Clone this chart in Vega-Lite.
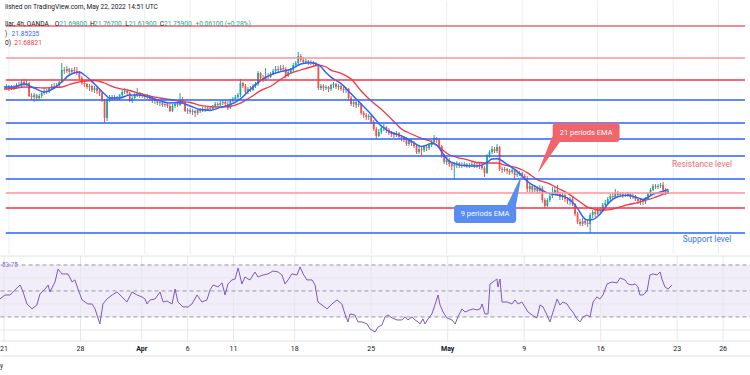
{
  "$schema": "https://vega.github.io/schema/vega-lite/v6.json",
  "padding": 0,
  "spacing": 0,
  "background": "#ffffff",
  "config": {"view": {"stroke": null}, "font": "Roboto"},
  "datasets": {
    "candles": [
      {"b":-1,"o":24.86,"h":24.98,"l":24.80,"c":24.92},{"b":0,"o":24.92,"h":24.95,"l":24.77,"c":24.83},{"b":1,"o":24.83,"h":24.95,"l":24.80,"c":24.89},{"b":2,"o":24.89,"h":24.95,"l":24.80,"c":24.86},{"b":3,"o":24.86,"h":25.01,"l":24.83,"c":24.95},{"b":4,"o":24.95,"h":25.04,"l":24.86,"c":24.92},{"b":5,"o":24.92,"h":25.10,"l":24.89,"c":25.04},{"b":6,"o":25.04,"h":25.13,"l":24.92,"c":24.98},{"b":7,"o":24.98,"h":25.10,"l":24.92,"c":25.01},{"b":8,"o":25.01,"h":25.04,"l":24.59,"c":24.62},
      {"b":9,"o":24.62,"h":24.71,"l":24.50,"c":24.59},{"b":10,"o":24.59,"h":24.71,"l":24.44,"c":24.65},{"b":11,"o":24.65,"h":24.68,"l":24.47,"c":24.56},{"b":12,"o":24.56,"h":24.68,"l":24.50,"c":24.62},{"b":13,"o":24.62,"h":24.74,"l":24.56,"c":24.71},{"b":14,"o":24.71,"h":24.83,"l":24.65,"c":24.77},{"b":15,"o":24.77,"h":24.83,"l":24.68,"c":24.74},{"b":16,"o":24.74,"h":24.89,"l":24.71,"c":24.86},{"b":17,"o":24.86,"h":24.98,"l":24.80,"c":24.92},{"b":18,"o":24.92,"h":25.01,"l":24.83,"c":24.89},
      {"b":19,"o":24.89,"h":25.01,"l":24.86,"c":24.95},{"b":20,"o":24.95,"h":25.07,"l":24.89,"c":25.04},{"b":21,"o":25.04,"h":25.61,"l":25.01,"c":25.40},{"b":22,"o":25.40,"h":25.49,"l":25.28,"c":25.37},{"b":23,"o":25.37,"h":25.52,"l":25.31,"c":25.43},{"b":24,"o":25.43,"h":25.46,"l":25.28,"c":25.34},{"b":25,"o":25.34,"h":25.46,"l":25.31,"c":25.40},{"b":26,"o":25.40,"h":25.49,"l":25.28,"c":25.37},{"b":27,"o":25.37,"h":25.49,"l":25.25,"c":25.34},{"b":28,"o":25.34,"h":25.37,"l":25.10,"c":25.16},
      {"b":29,"o":25.16,"h":25.22,"l":24.95,"c":25.01},{"b":30,"o":25.01,"h":25.10,"l":24.89,"c":24.98},{"b":31,"o":24.98,"h":25.01,"l":24.83,"c":24.89},{"b":32,"o":24.89,"h":24.98,"l":24.77,"c":24.92},{"b":33,"o":24.92,"h":24.95,"l":24.74,"c":24.80},{"b":34,"o":24.80,"h":24.92,"l":24.71,"c":24.86},{"b":35,"o":24.86,"h":24.89,"l":24.68,"c":24.77},{"b":36,"o":24.77,"h":24.83,"l":24.62,"c":24.71},{"b":37,"o":24.71,"h":24.74,"l":24.44,"c":24.50},{"b":38,"o":24.50,"h":24.53,"l":23.81,"c":23.96},
      {"b":39,"o":23.96,"h":24.56,"l":23.87,"c":24.50},{"b":40,"o":24.50,"h":24.65,"l":24.44,"c":24.59},{"b":41,"o":24.59,"h":24.65,"l":24.47,"c":24.53},{"b":42,"o":24.53,"h":24.65,"l":24.50,"c":24.59},{"b":43,"o":24.59,"h":24.62,"l":24.47,"c":24.56},{"b":44,"o":24.56,"h":24.68,"l":24.50,"c":24.65},{"b":45,"o":24.65,"h":24.80,"l":24.59,"c":24.74},{"b":46,"o":24.74,"h":24.86,"l":24.68,"c":24.77},{"b":47,"o":24.77,"h":24.83,"l":24.65,"c":24.71},{"b":48,"o":24.71,"h":24.74,"l":24.44,"c":24.47},
      {"b":49,"o":24.47,"h":24.62,"l":24.41,"c":24.56},{"b":50,"o":24.56,"h":24.71,"l":24.53,"c":24.65},{"b":51,"o":24.65,"h":24.86,"l":24.59,"c":24.71},{"b":52,"o":24.71,"h":24.74,"l":24.56,"c":24.62},{"b":53,"o":24.62,"h":24.71,"l":24.56,"c":24.65},{"b":54,"o":24.65,"h":24.68,"l":24.53,"c":24.59},{"b":55,"o":24.59,"h":24.68,"l":24.53,"c":24.62},{"b":56,"o":24.62,"h":24.65,"l":24.47,"c":24.53},{"b":57,"o":24.53,"h":24.59,"l":24.41,"c":24.47},{"b":58,"o":24.47,"h":24.56,"l":24.38,"c":24.50},
      {"b":59,"o":24.50,"h":24.53,"l":24.35,"c":24.41},{"b":60,"o":24.41,"h":24.50,"l":24.32,"c":24.44},{"b":61,"o":24.44,"h":24.47,"l":24.29,"c":24.35},{"b":62,"o":24.35,"h":24.44,"l":24.29,"c":24.38},{"b":63,"o":24.38,"h":24.41,"l":24.26,"c":24.32},{"b":64,"o":24.32,"h":24.38,"l":24.14,"c":24.17},{"b":65,"o":24.17,"h":24.38,"l":24.14,"c":24.32},{"b":66,"o":24.32,"h":24.44,"l":24.26,"c":24.38},{"b":67,"o":24.38,"h":24.44,"l":24.29,"c":24.35},{"b":68,"o":24.35,"h":24.71,"l":24.32,"c":24.50},
      {"b":69,"o":24.50,"h":24.59,"l":24.41,"c":24.44},{"b":70,"o":24.44,"h":24.47,"l":24.14,"c":24.17},{"b":71,"o":24.17,"h":24.26,"l":24.08,"c":24.20},{"b":72,"o":24.20,"h":24.26,"l":24.08,"c":24.14},{"b":73,"o":24.14,"h":24.23,"l":24.05,"c":24.17},{"b":74,"o":24.17,"h":24.20,"l":23.99,"c":24.11},{"b":75,"o":24.11,"h":24.23,"l":24.05,"c":24.20},{"b":76,"o":24.20,"h":24.26,"l":24.11,"c":24.17},{"b":77,"o":24.17,"h":24.29,"l":24.14,"c":24.23},{"b":78,"o":24.23,"h":24.29,"l":24.14,"c":24.20},
      {"b":79,"o":24.20,"h":24.32,"l":24.17,"c":24.26},{"b":80,"o":24.26,"h":24.32,"l":24.17,"c":24.23},{"b":81,"o":24.23,"h":24.35,"l":24.20,"c":24.32},{"b":82,"o":24.32,"h":24.44,"l":24.26,"c":24.38},{"b":83,"o":24.38,"h":24.44,"l":24.29,"c":24.35},{"b":84,"o":24.35,"h":24.47,"l":24.32,"c":24.41},{"b":85,"o":24.41,"h":24.50,"l":24.35,"c":24.44},{"b":86,"o":24.44,"h":24.50,"l":24.32,"c":24.38},{"b":87,"o":24.38,"h":24.47,"l":24.20,"c":24.26},{"b":88,"o":24.26,"h":24.53,"l":24.23,"c":24.47},
      {"b":89,"o":24.47,"h":24.59,"l":24.44,"c":24.53},{"b":90,"o":24.53,"h":24.65,"l":24.50,"c":24.59},{"b":91,"o":24.59,"h":24.71,"l":24.53,"c":24.65},{"b":92,"o":24.65,"h":25.13,"l":24.59,"c":25.01},{"b":93,"o":25.01,"h":25.04,"l":24.86,"c":24.92},{"b":94,"o":24.92,"h":24.98,"l":24.68,"c":24.74},{"b":95,"o":24.74,"h":24.89,"l":24.68,"c":24.83},{"b":96,"o":24.83,"h":24.92,"l":24.74,"c":24.80},{"b":97,"o":24.80,"h":24.98,"l":24.77,"c":24.92},{"b":98,"o":24.92,"h":25.04,"l":24.86,"c":24.98},
      {"b":99,"o":24.98,"h":25.37,"l":24.92,"c":25.31},{"b":100,"o":25.31,"h":25.34,"l":25.10,"c":25.16},{"b":101,"o":25.16,"h":25.25,"l":25.04,"c":25.10},{"b":102,"o":25.10,"h":25.46,"l":25.07,"c":25.22},{"b":103,"o":25.22,"h":25.31,"l":25.13,"c":25.19},{"b":104,"o":25.19,"h":25.34,"l":25.16,"c":25.28},{"b":105,"o":25.28,"h":25.43,"l":25.25,"c":25.37},{"b":106,"o":25.37,"h":25.52,"l":25.31,"c":25.43},{"b":107,"o":25.43,"h":25.52,"l":25.34,"c":25.40},{"b":108,"o":25.40,"h":25.55,"l":25.37,"c":25.46},
      {"b":109,"o":25.46,"h":25.55,"l":25.37,"c":25.43},{"b":110,"o":25.43,"h":25.49,"l":25.16,"c":25.22},{"b":111,"o":25.22,"h":25.40,"l":25.19,"c":25.34},{"b":112,"o":25.34,"h":25.46,"l":25.28,"c":25.40},{"b":113,"o":25.40,"h":25.61,"l":25.34,"c":25.55},{"b":114,"o":25.55,"h":25.67,"l":25.49,"c":25.61},{"b":115,"o":25.61,"h":25.94,"l":25.55,"c":25.82},{"b":116,"o":25.82,"h":25.88,"l":25.64,"c":25.70},{"b":117,"o":25.70,"h":25.79,"l":25.58,"c":25.64},{"b":118,"o":25.64,"h":25.73,"l":25.58,"c":25.67},
      {"b":119,"o":25.67,"h":25.70,"l":25.55,"c":25.61},{"b":120,"o":25.61,"h":25.70,"l":25.55,"c":25.64},{"b":121,"o":25.64,"h":25.67,"l":25.52,"c":25.58},{"b":122,"o":25.58,"h":25.64,"l":25.49,"c":25.52},{"b":123,"o":25.52,"h":25.55,"l":24.80,"c":24.86},{"b":124,"o":24.86,"h":24.98,"l":24.80,"c":24.92},{"b":125,"o":24.92,"h":24.98,"l":24.77,"c":24.86},{"b":126,"o":24.86,"h":24.95,"l":24.80,"c":24.89},{"b":127,"o":24.89,"h":24.92,"l":24.74,"c":24.83},{"b":128,"o":24.83,"h":24.98,"l":24.77,"c":24.95},
      {"b":129,"o":24.95,"h":25.04,"l":24.86,"c":24.98},{"b":130,"o":24.98,"h":25.01,"l":24.83,"c":24.89},{"b":131,"o":24.89,"h":24.98,"l":24.80,"c":24.92},{"b":132,"o":24.92,"h":24.95,"l":24.77,"c":24.83},{"b":133,"o":24.83,"h":24.89,"l":24.71,"c":24.80},{"b":134,"o":24.80,"h":24.89,"l":24.71,"c":24.83},{"b":135,"o":24.83,"h":24.86,"l":24.50,"c":24.56},{"b":136,"o":24.56,"h":24.62,"l":24.32,"c":24.38},{"b":137,"o":24.38,"h":24.50,"l":24.29,"c":24.44},{"b":138,"o":24.44,"h":24.47,"l":24.26,"c":24.35},
      {"b":139,"o":24.35,"h":24.44,"l":24.29,"c":24.38},{"b":140,"o":24.38,"h":24.41,"l":24.05,"c":24.11},{"b":141,"o":24.11,"h":24.17,"l":23.96,"c":24.05},{"b":142,"o":24.05,"h":24.11,"l":23.90,"c":23.99},{"b":143,"o":23.99,"h":24.08,"l":23.90,"c":24.02},{"b":144,"o":24.02,"h":24.05,"l":23.78,"c":23.84},{"b":145,"o":23.84,"h":23.90,"l":23.57,"c":23.63},{"b":146,"o":23.63,"h":23.69,"l":23.33,"c":23.42},{"b":147,"o":23.42,"h":23.63,"l":23.39,"c":23.54},{"b":148,"o":23.54,"h":23.75,"l":23.48,"c":23.66},
      {"b":149,"o":23.66,"h":23.78,"l":23.57,"c":23.69},{"b":150,"o":23.69,"h":23.72,"l":23.51,"c":23.60},{"b":151,"o":23.60,"h":23.66,"l":23.45,"c":23.51},{"b":152,"o":23.51,"h":23.57,"l":23.39,"c":23.48},{"b":153,"o":23.48,"h":23.54,"l":23.36,"c":23.45},{"b":154,"o":23.45,"h":23.57,"l":23.39,"c":23.51},{"b":155,"o":23.51,"h":23.54,"l":23.33,"c":23.39},{"b":156,"o":23.39,"h":23.45,"l":23.27,"c":23.36},{"b":157,"o":23.36,"h":23.42,"l":23.24,"c":23.33},{"b":158,"o":23.33,"h":23.39,"l":23.12,"c":23.18},
      {"b":159,"o":23.18,"h":23.33,"l":23.12,"c":23.27},{"b":160,"o":23.27,"h":23.33,"l":23.12,"c":23.21},{"b":161,"o":23.21,"h":23.27,"l":23.06,"c":23.12},{"b":162,"o":23.12,"h":23.18,"l":22.88,"c":22.94},{"b":163,"o":22.94,"h":23.12,"l":22.88,"c":23.03},{"b":164,"o":23.03,"h":23.12,"l":22.85,"c":23.00},{"b":165,"o":23.00,"h":23.15,"l":22.94,"c":23.09},{"b":166,"o":23.09,"h":23.15,"l":22.97,"c":23.06},{"b":167,"o":23.06,"h":23.21,"l":23.00,"c":23.15},{"b":168,"o":23.15,"h":23.30,"l":23.09,"c":23.24},
      {"b":169,"o":23.24,"h":23.45,"l":23.18,"c":23.36},{"b":170,"o":23.36,"h":23.39,"l":23.21,"c":23.30},{"b":171,"o":23.30,"h":23.36,"l":23.06,"c":23.12},{"b":172,"o":23.12,"h":23.15,"l":22.76,"c":22.82},{"b":173,"o":22.82,"h":22.88,"l":22.58,"c":22.64},{"b":174,"o":22.64,"h":22.79,"l":22.55,"c":22.70},{"b":175,"o":22.70,"h":22.76,"l":22.49,"c":22.58},{"b":176,"o":22.58,"h":22.64,"l":22.40,"c":22.52},{"b":177,"o":22.52,"h":22.64,"l":22.10,"c":22.55},{"b":178,"o":22.55,"h":22.67,"l":22.46,"c":22.61},
      {"b":179,"o":22.61,"h":22.64,"l":22.46,"c":22.52},{"b":180,"o":22.52,"h":22.64,"l":22.46,"c":22.55},{"b":181,"o":22.55,"h":22.64,"l":22.49,"c":22.58},{"b":182,"o":22.58,"h":22.61,"l":22.46,"c":22.52},{"b":183,"o":22.52,"h":22.61,"l":22.46,"c":22.55},{"b":184,"o":22.55,"h":22.67,"l":22.49,"c":22.58},{"b":185,"o":22.58,"h":22.61,"l":22.46,"c":22.52},{"b":186,"o":22.52,"h":22.61,"l":22.46,"c":22.55},{"b":187,"o":22.55,"h":22.61,"l":22.43,"c":22.52},{"b":188,"o":22.52,"h":22.58,"l":22.40,"c":22.46},
      {"b":189,"o":22.46,"h":22.52,"l":22.19,"c":22.31},{"b":190,"o":22.31,"h":22.88,"l":22.28,"c":22.82},{"b":191,"o":22.82,"h":23.00,"l":22.76,"c":22.94},{"b":192,"o":22.94,"h":23.12,"l":22.88,"c":23.03},{"b":193,"o":23.03,"h":23.09,"l":22.91,"c":22.97},{"b":194,"o":22.97,"h":23.18,"l":22.91,"c":23.09},{"b":195,"o":23.09,"h":23.12,"l":22.37,"c":22.43},{"b":196,"o":22.43,"h":22.49,"l":22.31,"c":22.40},{"b":197,"o":22.40,"h":22.49,"l":22.34,"c":22.43},{"b":198,"o":22.43,"h":22.46,"l":22.28,"c":22.37},
      {"b":199,"o":22.37,"h":22.43,"l":22.25,"c":22.34},{"b":200,"o":22.34,"h":22.46,"l":22.28,"c":22.40},{"b":201,"o":22.40,"h":22.43,"l":22.10,"c":22.25},{"b":202,"o":22.25,"h":22.34,"l":22.19,"c":22.28},{"b":203,"o":22.28,"h":22.37,"l":22.22,"c":22.31},{"b":204,"o":22.31,"h":22.34,"l":22.16,"c":22.22},{"b":205,"o":22.22,"h":22.28,"l":22.10,"c":22.16},{"b":206,"o":22.16,"h":22.22,"l":21.74,"c":21.83},{"b":207,"o":21.83,"h":22.01,"l":21.74,"c":21.92},{"b":208,"o":21.92,"h":21.98,"l":21.71,"c":21.80},
      {"b":209,"o":21.80,"h":21.95,"l":21.74,"c":21.86},{"b":210,"o":21.86,"h":21.92,"l":21.68,"c":21.77},{"b":211,"o":21.77,"h":21.95,"l":21.71,"c":21.86},{"b":212,"o":21.86,"h":21.92,"l":21.41,"c":21.50},{"b":213,"o":21.50,"h":21.56,"l":21.26,"c":21.32},{"b":214,"o":21.32,"h":21.56,"l":21.29,"c":21.50},{"b":215,"o":21.50,"h":21.68,"l":21.44,"c":21.62},{"b":216,"o":21.62,"h":21.89,"l":21.56,"c":21.71},{"b":217,"o":21.71,"h":21.92,"l":21.65,"c":21.80},{"b":218,"o":21.80,"h":21.95,"l":21.62,"c":21.68},
      {"b":219,"o":21.68,"h":21.74,"l":21.50,"c":21.59},{"b":220,"o":21.59,"h":21.71,"l":21.50,"c":21.65},{"b":221,"o":21.65,"h":21.68,"l":21.44,"c":21.53},{"b":222,"o":21.53,"h":21.59,"l":21.38,"c":21.47},{"b":223,"o":21.47,"h":21.59,"l":21.35,"c":21.53},{"b":224,"o":21.53,"h":21.59,"l":21.32,"c":21.38},{"b":225,"o":21.38,"h":21.41,"l":21.02,"c":21.08},{"b":226,"o":21.08,"h":21.14,"l":20.78,"c":20.84},{"b":227,"o":20.84,"h":20.93,"l":20.72,"c":20.78},{"b":228,"o":20.78,"h":20.96,"l":20.72,"c":20.87},
      {"b":229,"o":20.87,"h":20.93,"l":20.75,"c":20.81},{"b":230,"o":20.81,"h":20.90,"l":20.69,"c":20.78},{"b":231,"o":20.78,"h":21.11,"l":20.51,"c":21.05},{"b":232,"o":21.05,"h":21.20,"l":20.96,"c":21.14},{"b":233,"o":21.14,"h":21.20,"l":20.99,"c":21.08},{"b":234,"o":21.08,"h":21.26,"l":21.05,"c":21.20},{"b":235,"o":21.20,"h":21.29,"l":21.11,"c":21.17},{"b":236,"o":21.17,"h":21.41,"l":21.14,"c":21.35},{"b":237,"o":21.35,"h":21.50,"l":21.29,"c":21.41},{"b":238,"o":21.41,"h":21.59,"l":21.35,"c":21.53},
      {"b":239,"o":21.53,"h":21.68,"l":21.47,"c":21.62},{"b":240,"o":21.62,"h":21.71,"l":21.53,"c":21.59},{"b":241,"o":21.59,"h":21.83,"l":21.56,"c":21.71},{"b":242,"o":21.71,"h":21.77,"l":21.59,"c":21.65},{"b":243,"o":21.65,"h":21.74,"l":21.59,"c":21.68},{"b":244,"o":21.68,"h":21.74,"l":21.56,"c":21.62},{"b":245,"o":21.62,"h":21.71,"l":21.59,"c":21.65},{"b":246,"o":21.65,"h":21.74,"l":21.59,"c":21.68},{"b":247,"o":21.68,"h":21.71,"l":21.53,"c":21.59},{"b":248,"o":21.59,"h":21.68,"l":21.53,"c":21.62},
      {"b":249,"o":21.62,"h":21.65,"l":21.47,"c":21.53},{"b":250,"o":21.53,"h":21.56,"l":21.38,"c":21.47},{"b":251,"o":21.47,"h":21.56,"l":21.35,"c":21.50},{"b":252,"o":21.50,"h":21.53,"l":21.35,"c":21.44},{"b":253,"o":21.44,"h":21.59,"l":21.38,"c":21.53},{"b":254,"o":21.53,"h":21.74,"l":21.50,"c":21.68},{"b":255,"o":21.68,"h":21.86,"l":21.62,"c":21.80},{"b":256,"o":21.80,"h":21.98,"l":21.77,"c":21.92},{"b":257,"o":21.92,"h":21.98,"l":21.83,"c":21.89},{"b":258,"o":21.89,"h":21.98,"l":21.83,"c":21.92},
      {"b":259,"o":21.92,"h":22.01,"l":21.86,"c":21.95},{"b":260,"o":21.95,"h":22.04,"l":21.74,"c":21.80},{"b":261,"o":21.80,"h":21.86,"l":21.65,"c":21.71},{"b":262,"o":21.71,"h":21.83,"l":21.68,"c":21.77}
    ],
    "ema": [
      {"b":-2,"e9":24.89,"e21":24.83},{"b":2,"e9":24.89,"e21":24.845},{"b":6,"e9":24.98,"e21":24.89},{"b":10,"e9":24.86,"e21":24.875},{"b":14,"e9":24.74,"e21":24.86},{"b":18,"e9":24.86,"e21":24.875},{"b":21,"e9":25.04,"e21":24.89},{"b":24,"e9":25.25,"e21":24.965},{"b":28,"e9":25.34,"e21":25.046},{"b":30,"e9":25.25,"e21":25.07},
      {"b":34,"e9":24.98,"e21":25.085},{"b":38,"e9":24.68,"e21":25.01},{"b":40,"e9":24.56,"e21":24.941},{"b":44,"e9":24.56,"e21":24.839},{"b":48,"e9":24.65,"e21":24.785},{"b":52,"e9":24.65,"e21":24.695},{"b":56,"e9":24.575,"e21":24.614},{"b":60,"e9":24.482,"e21":24.56},{"b":64,"e9":24.41,"e21":24.518},{"b":68,"e9":24.419,"e21":24.455},
      {"b":72,"e9":24.32,"e21":24.425},{"b":76,"e9":24.212,"e21":24.338},{"b":80,"e9":24.188,"e21":24.299},{"b":84,"e9":24.278,"e21":24.29},{"b":88,"e9":24.362,"e21":24.311},{"b":92,"e9":24.536,"e21":24.404},{"b":96,"e9":24.824,"e21":24.581},{"b":100,"e9":25.082,"e21":24.782},{"b":104,"e9":25.253,"e21":24.914},{"b":108,"e9":25.352,"e21":25.118},
      {"b":112,"e9":25.424,"e21":25.304},{"b":116,"e9":25.577,"e21":25.40},{"b":120,"e9":25.616,"e21":25.49},{"b":123,"e9":25.559,"e21":25.544},{"b":126,"e9":25.325,"e21":25.49},{"b":128,"e9":25.184,"e21":25.397},{"b":132,"e9":24.992,"e21":25.301},{"b":136,"e9":24.686,"e21":25.13},{"b":140,"e9":24.38,"e21":24.77},{"b":144,"e9":24.068,"e21":24.47},
      {"b":148,"e9":23.72,"e21":24.224},{"b":152,"e9":23.525,"e21":23.93},{"b":156,"e9":23.423,"e21":23.633},{"b":160,"e9":23.258,"e21":23.48},{"b":164,"e9":23.102,"e21":23.348},{"b":168,"e9":23.192,"e21":23.249},{"b":170,"e9":23.15,"e21":23.144},{"b":172,"e9":22.952,"e21":23.027},{"b":174,"e9":22.736,"e21":22.904},{"b":178,"e9":22.568,"e21":22.778},
      {"b":182,"e9":22.526,"e21":22.712},{"b":186,"e9":22.52,"e21":22.625},{"b":190,"e9":22.622,"e21":22.61},{"b":192,"e9":22.73,"e21":22.61},{"b":194,"e9":22.739,"e21":22.61},{"b":198,"e9":22.571,"e21":22.529},{"b":202,"e9":22.358,"e21":22.466},{"b":204,"e9":22.214,"e21":22.40},{"b":206,"e9":22.061,"e21":22.322},{"b":210,"e9":21.869,"e21":22.112},
      {"b":214,"e9":21.713,"e21":22.013},{"b":218,"e9":21.65,"e21":21.86},{"b":222,"e9":21.557,"e21":21.707},{"b":226,"e9":21.248,"e21":21.494},{"b":228,"e9":21.008,"e21":21.386},{"b":230,"e9":20.90,"e21":21.284},{"b":232,"e9":20.912,"e21":21.239},{"b":234,"e9":21.011,"e21":21.20},{"b":236,"e9":21.173,"e21":21.20},{"b":238,"e9":21.377,"e21":21.206},
      {"b":240,"e9":21.518,"e21":21.224},{"b":242,"e9":21.596,"e21":21.269},{"b":246,"e9":21.641,"e21":21.359},{"b":250,"e9":21.563,"e21":21.422},{"b":252,"e9":21.518,"e21":21.47},{"b":254,"e9":21.581,"e21":21.515},{"b":256,"e9":21.668,"e21":21.56},{"b":258,"e9":21.722,"e21":21.614},{"b":260,"e9":21.764,"e21":21.674},{"b":262,"e9":21.818,"e21":21.71}
    ],
    "rsi": [
      {"b":-1.6,"r":43.8},{"b":0.4,"r":46.9},{"b":2.4,"r":46.9},{"b":4.3,"r":50.8},{"b":6.3,"r":54.6},{"b":7.5,"r":49.2},{"b":9.0,"r":40},{"b":11.0,"r":36.2},{"b":12.9,"r":39.2},{"b":14.1,"r":47.7},{"b":16.1,"r":51.5},{"b":17.3,"r":54.6},{"b":18.0,"r":49.2},{"b":20.0,"r":56.9},{"b":21.2,"r":66.9},{"b":22.7,"r":63.1},{"b":25.1,"r":63.1},{"b":26.7,"r":56.9},{"b":27.8,"r":58.5},{"b":29.0,"r":51.5},
      {"b":30.6,"r":43.1},{"b":32.9,"r":40},{"b":34.5,"r":40},{"b":35.7,"r":36.2},{"b":37.6,"r":24.6},{"b":38.8,"r":40},{"b":40.4,"r":43.8},{"b":42.4,"r":46.9},{"b":44.3,"r":49.2},{"b":46.3,"r":45.4},{"b":48.2,"r":41.5},{"b":50.2,"r":49.2},{"b":52.2,"r":46.9},{"b":54.1,"r":45.4},{"b":55.3,"r":43.8},{"b":56.1,"r":40},{"b":57.3,"r":43.1},{"b":59.2,"r":43.8},{"b":61.2,"r":49.2},{"b":62.4,"r":41.5},
      {"b":63.9,"r":42.3},{"b":65.9,"r":40},{"b":67.1,"r":51.5},{"b":68.2,"r":41.5},{"b":70.2,"r":37.7},{"b":72.2,"r":37.7},{"b":73.7,"r":40},{"b":75.7,"r":46.9},{"b":77.6,"r":41.5},{"b":79.6,"r":43.1},{"b":80.8,"r":50.8},{"b":82.0,"r":54.6},{"b":83.9,"r":53.1},{"b":85.5,"r":56.2},{"b":86.7,"r":46.9},{"b":87.8,"r":55.4},{"b":89.4,"r":58.5},{"b":90.6,"r":59.2},{"b":91.8,"r":67.7},{"b":93.3,"r":55.4},
      {"b":94.5,"r":60.8},{"b":95.7,"r":59.2},{"b":96.5,"r":58.5},{"b":98.4,"r":64.6},{"b":99.6,"r":60.8},{"b":101.6,"r":62.3},{"b":103.5,"r":63.1},{"b":105.5,"r":65.4},{"b":107.5,"r":64.6},{"b":109.0,"r":62.3},{"b":110.2,"r":55.4},{"b":111.4,"r":58.5},{"b":112.9,"r":63.1},{"b":114.9,"r":62.3},{"b":116.1,"r":68.5},{"b":117.3,"r":63.1},{"b":118.8,"r":58.5},{"b":120.8,"r":58.5},{"b":122.0,"r":54.6},{"b":123.1,"r":41.5},
      {"b":124.7,"r":39.2},{"b":126.7,"r":36.2},{"b":128.6,"r":40},{"b":130.6,"r":43.1},{"b":132.5,"r":40},{"b":133.7,"r":32.3},{"b":134.9,"r":26.2},{"b":135.7,"r":32.3},{"b":137.6,"r":31.5},{"b":138.8,"r":26.2},{"b":140.4,"r":26.2},{"b":142.4,"r":24.6},{"b":143.5,"r":20.8},{"b":145.5,"r":18.5},{"b":146.7,"r":22.3},{"b":148.2,"r":23.8},{"b":149.4,"r":30},{"b":150.6,"r":31.5},{"b":152.2,"r":29.2},{"b":154.1,"r":27.7},
      {"b":156.1,"r":27.7},{"b":157.3,"r":30},{"b":158.4,"r":27.7},{"b":160.0,"r":30},{"b":161.2,"r":27.7},{"b":162.4,"r":26.2},{"b":163.1,"r":24.6},{"b":164.3,"r":28.5},{"b":165.1,"r":24.6},{"b":166.3,"r":28.5},{"b":167.8,"r":32.3},{"b":169.0,"r":39.2},{"b":170.2,"r":46.9},{"b":171.0,"r":39.2},{"b":172.2,"r":33.8},{"b":173.7,"r":29.2},{"b":175.7,"r":27.7},{"b":176.9,"r":24.6},{"b":178.0,"r":30},{"b":179.6,"r":36.2},
      {"b":180.8,"r":33.8},{"b":182.7,"r":35.4},{"b":183.9,"r":36.2},{"b":185.5,"r":35.4},{"b":186.7,"r":36.2},{"b":187.5,"r":40},{"b":188.6,"r":32.3},{"b":189.8,"r":32.3},{"b":190.6,"r":55.4},{"b":191.8,"r":56.9},{"b":193.3,"r":59.2},{"b":193.7,"r":53.1},{"b":194.5,"r":59.2},{"b":195.3,"r":41.5},{"b":197.3,"r":41.5},{"b":199.2,"r":40},{"b":200.4,"r":43.1},{"b":201.6,"r":40},{"b":203.1,"r":41.5},{"b":204.3,"r":37.7},
      {"b":205.5,"r":33.8},{"b":207.1,"r":31.5},{"b":209.0,"r":29.2},{"b":210.2,"r":39.2},{"b":211.4,"r":37.7},{"b":212.9,"r":31.5},{"b":214.1,"r":26.2},{"b":215.3,"r":33.8},{"b":216.9,"r":43.8},{"b":218.0,"r":39.2},{"b":219.2,"r":41.5},{"b":220.8,"r":40},{"b":222.0,"r":36.2},{"b":223.1,"r":33.8},{"b":224.7,"r":28.5},{"b":225.9,"r":26.2},{"b":227.1,"r":30},{"b":228.6,"r":31.5},{"b":229.8,"r":30},{"b":231.0,"r":41.5},
      {"b":232.5,"r":45.4},{"b":233.7,"r":43.8},{"b":234.9,"r":46.9},{"b":236.5,"r":55.4},{"b":238.4,"r":56.9},{"b":240.4,"r":56.2},{"b":241.6,"r":60},{"b":243.5,"r":58.5},{"b":244.7,"r":55.4},{"b":246.3,"r":54.6},{"b":247.5,"r":55.4},{"b":248.6,"r":53.1},{"b":249.4,"r":46.9},{"b":250.6,"r":46.9},{"b":252.2,"r":50},{"b":253.3,"r":62.3},{"b":254.5,"r":63.1},{"b":256.1,"r":62.3},{"b":257.3,"r":64.6},{"b":258.0,"r":59.2},
      {"b":259.2,"r":53.1},{"b":260.4,"r":51.5},{"b":262.0,"r":54.6}
    ],
    "ticks": [
      {"b":0,"t":"21","m":0},{"b":30,"t":"28","m":0},{"b":54,"t":"Apr","m":1},{"b":72,"t":"6","m":0},{"b":90,"t":"11","m":0},{"b":114,"t":"18","m":0},{"b":144,"t":"25","m":0},{"b":174,"t":"May","m":1},{"b":204,"t":"9","m":0},{"b":234,"t":"16","m":0},{"b":264,"t":"23","m":0},{"b":282,"t":"26","m":0}
    ],
    "levels": [
      {"p":26.72,"k":"rt"},{"p":25.76,"k":"rl"},{"p":25.10,"k":"r"},{"p":24.50,"k":"b"},{"p":23.81,"k":"b"},{"p":23.33,"k":"b"},{"p":22.82,"k":"b"},{"p":22.13,"k":"b"},{"p":21.71,"k":"rl"},{"p":21.26,"k":"r"},{"p":20.51,"k":"b"}
    ],
    "boxes": [
      {"k":"boxr","b1":216.1,"b2":242.7,"p1":23.81,"p2":23.24,"bm":229.4,"pm":23.525,"t":"21 periods EMA"},
      {"k":"boxb","b1":176.9,"b2":201.6,"p1":21.35,"p2":20.81,"bm":189.25,"pm":21.08,"t":"9 periods EMA"}
    ],
    "pointers": [
      {"g":"p21","k":"boxr","b":217.3,"p":23.30,"s":0},{"g":"p21","k":"boxr","b":210.5,"p":22.35,"s":1},
      {"g":"p9","k":"boxb","b":199.6,"p":21.29,"s":0},{"g":"p9","k":"boxb","b":203.5,"p":22.19,"s":1}
    ],
    "header": [
      {"b":-1.57,"p":27.29,"t":"lished on TradingView.com, May 22, 2022 14:51 UTC","k":"dark"},
      {"b":-1.57,"p":26.78,"t":"llar, 4h, OANDA","k":"dark"},
      {"b":18.2,"p":26.78,"t":"O","k":"dark"},{"b":20.0,"p":26.78,"t":"21.69800","k":"up"},
      {"b":32.2,"p":26.78,"t":"H","k":"dark"},{"b":33.8,"p":26.78,"t":"21.76700","k":"up"},
      {"b":46.2,"p":26.78,"t":"L","k":"dark"},{"b":47.6,"p":26.78,"t":"21.61900","k":"up"},
      {"b":59.9,"p":26.78,"t":"C","k":"dark"},{"b":61.6,"p":26.78,"t":"21.75900","k":"up"},
      {"b":74.1,"p":26.78,"t":"+0.06100 (+0.28%)","k":"up"},
      {"b":-1.57,"p":26.48,"t":")","k":"dark"},{"b":1.06,"p":26.48,"t":"21.85235","k":"blue"},
      {"b":-1.57,"p":26.21,"t":"0)","k":"dark"},{"b":2.08,"p":26.21,"t":"21.68821","k":"red"}
    ],
    "notes": [
      {"b":263.5,"p":22.58,"t":"Resistance level","k":"res"},
      {"b":267.8,"p":20.33,"t":"Support level","k":"sup"}
    ]
  },
  "vconcat": [
    {
      "width": 750,
      "height": 254,
      "layer": [
        {
          "data": {"name": "ticks"},
          "mark": {"type": "rule", "color": "#eceef3", "strokeWidth": 1},
          "encoding": {
            "x": {"field": "b", "type": "quantitative", "scale": {"domain": [-1.57, 292.55], "nice": false, "zero": false}, "axis": null},
            "y": {"datum": 27.48, "type": "quantitative", "scale": {"domain": [19.88, 27.5], "nice": false, "zero": false}, "axis": null},
            "y2": {"datum": 19.88}
          }
        },
        {
          "data": {"name": "candles"},
          "mark": {"type": "rule", "strokeWidth": 1, "clip": true},
          "encoding": {
            "x": {"field": "b", "type": "quantitative", "scale": {"domain": [-1.57, 292.55], "nice": false, "zero": false}, "axis": null},
            "y": {"field": "l", "type": "quantitative", "scale": {"domain": [19.88, 27.5], "nice": false, "zero": false}, "axis": null},
            "y2": {"field": "h"},
            "color": {"condition": {"test": "datum.c >= datum.o", "value": "#26a69a"}, "value": "#ef5350"}
          }
        },
        {
          "data": {"name": "candles"},
          "mark": {"type": "bar", "width": 1.8, "clip": true},
          "encoding": {
            "x": {"field": "b", "type": "quantitative", "scale": {"domain": [-1.57, 292.55], "nice": false, "zero": false}, "axis": null},
            "y": {"field": "o", "type": "quantitative", "scale": {"domain": [19.88, 27.5], "nice": false, "zero": false}, "axis": null},
            "y2": {"field": "c"},
            "color": {"condition": {"test": "datum.c >= datum.o", "value": "#26a69a"}, "value": "#ef5350"}
          }
        },
        {
          "data": {"name": "ema"},
          "mark": {"type": "line", "color": "#f23645", "strokeWidth": 1.3, "clip": true, "interpolate": "monotone"},
          "encoding": {
            "x": {"field": "b", "type": "quantitative", "scale": {"domain": [-1.57, 292.55], "nice": false, "zero": false}, "axis": null},
            "y": {"field": "e21", "type": "quantitative", "scale": {"domain": [19.88, 27.5], "nice": false, "zero": false}, "axis": null}
          }
        },
        {
          "data": {"name": "ema"},
          "mark": {"type": "line", "color": "#2962ff", "strokeWidth": 1.5, "clip": true, "interpolate": "monotone"},
          "encoding": {
            "x": {"field": "b", "type": "quantitative", "scale": {"domain": [-1.57, 292.55], "nice": false, "zero": false}, "axis": null},
            "y": {"field": "e9", "type": "quantitative", "scale": {"domain": [19.88, 27.5], "nice": false, "zero": false}, "axis": null}
          }
        },
        {
          "data": {"name": "levels"},
          "mark": {"type": "rule", "strokeWidth": 1.6},
          "encoding": {
            "x": {"datum": -1.25, "type": "quantitative", "scale": {"domain": [-1.57, 292.55], "nice": false, "zero": false}, "axis": null},
            "x2": {"datum": 292.55},
            "y": {"field": "p", "type": "quantitative", "scale": {"domain": [19.88, 27.5], "nice": false, "zero": false}, "axis": null},
            "color": {"field": "k", "type": "nominal", "legend": null, "scale": {"domain": ["r","rl","rt","b","dark","up","blue","red","boxr","boxb","res","sup"], "range": ["#f23645","#f5979c","#f0646b","#2962ff","#131722","#26a69a","#2962ff","#f23645","#f0656c","#5a8df2","#f26d74","#3d6ff0"]}}
          }
        },
        {
          "data": {"name": "pointers"},
          "mark": {"type": "trail"},
          "encoding": {
            "x": {"field": "b", "type": "quantitative", "scale": {"domain": [-1.57, 292.55], "nice": false, "zero": false}, "axis": null},
            "y": {"field": "p", "type": "quantitative", "scale": {"domain": [19.88, 27.5], "nice": false, "zero": false}, "axis": null},
            "size": {"field": "s", "type": "quantitative", "legend": null, "scale": {"domain": [0, 1], "range": [9, 0.6]}},
            "detail": {"field": "g"},
            "color": {"field": "k", "type": "nominal", "legend": null, "scale": {"domain": ["r","rl","rt","b","dark","up","blue","red","boxr","boxb","res","sup"], "range": ["#f23645","#f5979c","#f0646b","#2962ff","#131722","#26a69a","#2962ff","#f23645","#f0656c","#5a8df2","#f26d74","#3d6ff0"]}}
          }
        },
        {
          "data": {"name": "boxes"},
          "mark": {"type": "rect", "cornerRadius": 3},
          "encoding": {
            "x": {"field": "b1", "type": "quantitative", "scale": {"domain": [-1.57, 292.55], "nice": false, "zero": false}, "axis": null},
            "x2": {"field": "b2"},
            "y": {"field": "p1", "type": "quantitative", "scale": {"domain": [19.88, 27.5], "nice": false, "zero": false}, "axis": null},
            "y2": {"field": "p2"},
            "color": {"field": "k", "type": "nominal", "legend": null, "scale": {"domain": ["r","rl","rt","b","dark","up","blue","red","boxr","boxb","res","sup"], "range": ["#f23645","#f5979c","#f0646b","#2962ff","#131722","#26a69a","#2962ff","#f23645","#f0656c","#5a8df2","#f26d74","#3d6ff0"]}}
          }
        },
        {
          "data": {"name": "boxes"},
          "mark": {"type": "text", "color": "#ffffff", "fontSize": 7.5, "align": "center", "baseline": "middle"},
          "encoding": {
            "x": {"field": "bm", "type": "quantitative", "scale": {"domain": [-1.57, 292.55], "nice": false, "zero": false}, "axis": null},
            "y": {"field": "pm", "type": "quantitative", "scale": {"domain": [19.88, 27.5], "nice": false, "zero": false}, "axis": null},
            "text": {"field": "t"}
          }
        },
        {
          "data": {"name": "header"},
          "mark": {"type": "text", "fontSize": 6.6, "align": "left", "baseline": "middle"},
          "encoding": {
            "x": {"field": "b", "type": "quantitative", "scale": {"domain": [-1.57, 292.55], "nice": false, "zero": false}, "axis": null},
            "y": {"field": "p", "type": "quantitative", "scale": {"domain": [19.88, 27.5], "nice": false, "zero": false}, "axis": null},
            "text": {"field": "t"},
            "color": {"field": "k", "type": "nominal", "legend": null, "scale": {"domain": ["r","rl","rt","b","dark","up","blue","red","boxr","boxb","res","sup"], "range": ["#f23645","#f5979c","#f0646b","#2962ff","#131722","#26a69a","#2962ff","#f23645","#f0656c","#5a8df2","#f26d74","#3d6ff0"]}}
          }
        },
        {
          "data": {"name": "notes"},
          "mark": {"type": "text", "fontSize": 8.4, "align": "left", "baseline": "middle"},
          "encoding": {
            "x": {"field": "b", "type": "quantitative", "scale": {"domain": [-1.57, 292.55], "nice": false, "zero": false}, "axis": null},
            "y": {"field": "p", "type": "quantitative", "scale": {"domain": [19.88, 27.5], "nice": false, "zero": false}, "axis": null},
            "text": {"field": "t"},
            "color": {"field": "k", "type": "nominal", "legend": null, "scale": {"domain": ["r","rl","rt","b","dark","up","blue","red","boxr","boxb","res","sup"], "range": ["#f23645","#f5979c","#f0646b","#2962ff","#131722","#26a69a","#2962ff","#f23645","#f0656c","#5a8df2","#f26d74","#3d6ff0"]}}
          }
        }
      ]
    },
    {
      "width": 750,
      "height": 85,
      "layer": [
        {
          "data": {"values": [{"lo": 30, "hi": 70}]},
          "mark": {"type": "rect", "color": "#7e57c2", "opacity": 0.1},
          "encoding": {
            "y": {"field": "hi", "type": "quantitative", "scale": {"domain": [11.5, 76.9], "nice": false, "zero": false}, "axis": null},
            "y2": {"field": "lo"}
          }
        },
        {
          "data": {"name": "ticks"},
          "mark": {"type": "rule", "color": "#e6e8ee", "strokeWidth": 1},
          "encoding": {
            "x": {"field": "b", "type": "quantitative", "scale": {"domain": [-1.57, 292.55], "nice": false, "zero": false}, "axis": null}
          }
        },
        {
          "data": {"values": [{"v": 20}, {"v": 40}, {"v": 60}]},
          "mark": {"type": "rule", "color": "#e6e8ee", "strokeWidth": 1},
          "encoding": {
            "x": {"datum": -1.37, "type": "quantitative", "scale": {"domain": [-1.57, 292.55], "nice": false, "zero": false}, "axis": null},
            "x2": {"datum": 292.55},
            "y": {"field": "v", "type": "quantitative", "scale": {"domain": [11.5, 76.9], "nice": false, "zero": false}, "axis": null}
          }
        },
        {
          "data": {"values": [{"v": 70}, {"v": 50}, {"v": 30}]},
          "mark": {"type": "rule", "color": "#9598a1", "strokeWidth": 1, "strokeDash": [4, 3]},
          "encoding": {
            "x": {"datum": -1.37, "type": "quantitative", "scale": {"domain": [-1.57, 292.55], "nice": false, "zero": false}, "axis": null},
            "x2": {"datum": 292.55},
            "y": {"field": "v", "type": "quantitative", "scale": {"domain": [11.5, 76.9], "nice": false, "zero": false}, "axis": null}
          }
        },
        {
          "data": {"name": "rsi"},
          "mark": {"type": "line", "color": "#7e57c2", "strokeWidth": 1, "clip": true},
          "encoding": {
            "x": {"field": "b", "type": "quantitative", "scale": {"domain": [-1.57, 292.55], "nice": false, "zero": false}, "axis": null},
            "y": {"field": "r", "type": "quantitative", "scale": {"domain": [11.5, 76.9], "nice": false, "zero": false}, "axis": null}
          }
        },
        {
          "data": {"values": [{"v": 76.9}, {"v": 11.5}, {"v": 0}]},
          "mark": {"type": "rule", "color": "#dfe2ea", "strokeWidth": 1},
          "encoding": {
            "x": {"datum": -1.37, "type": "quantitative", "scale": {"domain": [-1.57, 292.55], "nice": false, "zero": false}, "axis": null},
            "x2": {"datum": 292.55},
            "y": {"field": "v", "type": "quantitative", "scale": {"domain": [11.5, 76.9], "nice": false, "zero": false}, "axis": null}
          }
        },
        {
          "data": {"name": "ticks"},
          "transform": [{"filter": "datum.m == 0"}],
          "mark": {"type": "text", "color": "#131722", "fontSize": 7, "align": "center", "baseline": "middle"},
          "encoding": {
            "x": {"field": "b", "type": "quantitative", "scale": {"domain": [-1.57, 292.55], "nice": false, "zero": false}, "axis": null},
            "y": {"datum": 5.4, "type": "quantitative", "scale": {"domain": [11.5, 76.9], "nice": false, "zero": false}, "axis": null},
            "text": {"field": "t"}
          }
        },
        {
          "data": {"name": "ticks"},
          "transform": [{"filter": "datum.m == 1"}],
          "mark": {"type": "text", "color": "#131722", "fontSize": 7, "fontWeight": "bold", "align": "center", "baseline": "middle"},
          "encoding": {
            "x": {"field": "b", "type": "quantitative", "scale": {"domain": [-1.57, 292.55], "nice": false, "zero": false}, "axis": null},
            "y": {"datum": 5.4, "type": "quantitative", "scale": {"domain": [11.5, 76.9], "nice": false, "zero": false}, "axis": null},
            "text": {"field": "t"}
          }
        },
        {
          "data": {"values": [{"b": -0.8, "r": 70, "t": "53.75"}]},
          "mark": {"type": "text", "color": "#8c6fd0", "fontSize": 6.3, "align": "left", "baseline": "middle"},
          "encoding": {
            "x": {"field": "b", "type": "quantitative", "scale": {"domain": [-1.57, 292.55], "nice": false, "zero": false}, "axis": null},
            "y": {"field": "r", "type": "quantitative", "scale": {"domain": [11.5, 76.9], "nice": false, "zero": false}, "axis": null},
            "text": {"field": "t"}
          }
        },
        {
          "data": {"values": [{"b": -1.57, "r": -7.7, "t": "y"}]},
          "mark": {"type": "text", "color": "#131722", "fontSize": 6.5, "align": "left", "baseline": "middle"},
          "encoding": {
            "x": {"field": "b", "type": "quantitative", "scale": {"domain": [-1.57, 292.55], "nice": false, "zero": false}, "axis": null},
            "y": {"field": "r", "type": "quantitative", "scale": {"domain": [11.5, 76.9], "nice": false, "zero": false}, "axis": null},
            "text": {"field": "t"}
          }
        }
      ]
    }
  ]
}
